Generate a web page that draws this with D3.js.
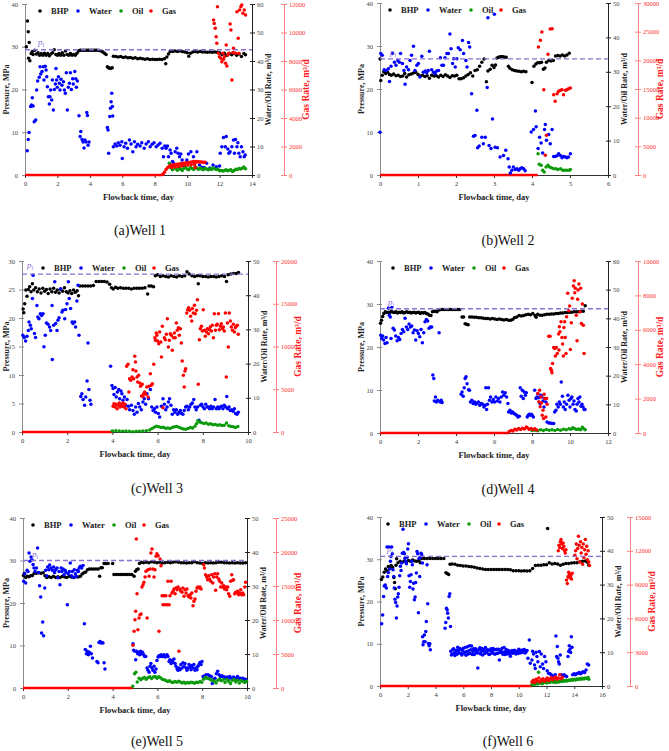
<!DOCTYPE html>
<html>
<head>
<meta charset="utf-8">
<script src="https://cdn.jsdelivr.net/npm/d3@7"></script>
<style>
  body { margin: 0; background: #fff; }
  svg text { font-family: "Liberation Serif", "Times New Roman", serif; }
</style>
</head>
<body>
<svg id="fig" width="669" height="751"></svg>
<script>
// ---- per-well settings ----
const letters = ['a', 'b', 'c', 'd', 'e', 'f'];
const wellNames = ['Well 1', 'Well 2', 'Well 3', 'Well 4', 'Well 5', 'Well 6'];
const timeMax = [14, 6, 10, 12, 10, 16];
const timeStep = [2, 1, 2, 2, 2, 2];
const pressMax = [40, 40, 30, 40, 40, 40];
const pressStep = [10, 10, 5, 10, 10, 10];
const rateMax = [60, 50, 50, 60, 50, 50];
const gasMax = [12000, 30000, 20000, 10000, 25000, 15000];
const gasStep = [2000, 5000, 5000, 2000, 5000, 3000];
const piValue = [29.3, 27, 27.7, 28.9, 30, 30.7];
const gasZeroUntil = [8.5, 4.15, 4.0, 6.8, 4.9, 10.95];

// ---- Well 1 ----
const bhp1 = [[0.08,30],[0.15,36],[0.2,33.5],[0.22,27.3],[0.26,31],[0.3,26.7],[0.38,28.4],[0.45,28.9],[0.5,28.2],[0.6,29.2],[0.7,28.3],[0.8,28.6],[0.9,28],[1,28.4],[1.1,28],[1.2,28.5],[1.3,28],[1.4,28.4],[1.5,27.9],[1.6,28.3],[1.7,28.6],[1.8,29.3],[1.9,28.2],[2,28],[2.1,28.4],[2.2,28],[2.3,28.6],[2.4,28],[2.5,29],[2.6,28.2],[2.7,28],[2.8,28.4],[2.9,28],[3,28.2],[3.1,28],[3.2,28.5],[3.3,29],[3.4,29.2],[3.5,29.2],[3.6,29.2],[3.7,29.2],[3.8,29.2],[3.9,29.2],[4,29.2],[4.1,29.2],[4.2,29.2],[4.3,29.2],[4.4,29.2],[4.5,29.2],[4.6,29.1],[4.7,29],[4.8,28.8],[4.9,28.5],[5,28.2],[5.08,25.3],[5.15,25.1],[5.22,25],[5.3,25],[5.38,25.1],[5.45,27.8],[5.6,27.7],[5.75,27.6],[5.9,27.7],[6.05,27.5],[6.2,27.6],[6.35,27.4],[6.5,27.5],[6.65,27.3],[6.8,27.4],[6.95,27.2],[7.1,27.3],[7.25,27.2],[7.4,27.1],[7.55,27.2],[7.7,27],[7.85,27.1],[8,27],[8.15,27],[8.3,27.1],[8.45,27],[8.6,27.2],[8.68,26],[8.75,27.6],[8.85,28.3],[8.95,28.9],[9.1,28.9],[9.25,29],[9.4,28.9],[9.55,29],[9.7,28.9],[9.85,28.8],[10,28.6],[10.1,27.8],[10.2,28.5],[10.35,28.8],[10.5,28.9],[10.65,28.8],[10.8,28.9],[10.95,28.8],[11.1,28.8],[11.25,28.7],[11.4,28.8],[11.55,28.7],[11.7,28.8],[11.85,28.7],[12,28.6],[12.15,28.2],[12.3,28.5],[12.45,28],[12.6,28.4],[12.75,28.1],[12.9,28.5],[13.05,28],[13.2,28.3],[13.35,27.7],[13.5,28.4],[13.6,28.1]];
const water1 = [[0.14,8.5],[0.2,12.5],[0.25,14.9],[0.35,24],[0.4,24.6],[0.45,27.1],[0.5,24.2],[0.57,18.7],[0.66,19.3],[0.72,29.8],[0.78,33],[0.88,34.3],[0.93,38],[0.97,35.4],[1.05,36.3],[1.13,38],[1.17,33.3],[1.25,38.2],[1.3,36.8],[1.34,34.5],[1.38,31],[1.44,27.5],[1.5,24.9],[1.54,27.5],[1.58,29.8],[1.65,26.3],[1.69,33.3],[1.75,22.8],[1.81,30],[1.87,31.9],[1.91,37.4],[1.95,33.3],[1.99,30.8],[2.06,34.5],[2.12,32.2],[2.16,29.8],[2.22,33.6],[2.28,31.5],[2.37,32.7],[2.43,29.8],[2.49,28.7],[2.55,35.9],[2.61,22.8],[2.67,30.8],[2.74,32.2],[2.8,35.9],[2.86,30],[2.94,33.8],[2.98,31.9],[3.07,36.3],[3.13,33.8],[3.17,30.8],[3.23,33],[3.33,20.8],[3.4,13.5],[3.44,15.3],[3.52,12.5],[3.58,11.6],[3.64,9.5],[3.7,12.3],[3.77,11.6],[3.81,21.9],[3.85,20.9],[3.89,10.4],[3.95,11.6],[5.08,16.7],[5.12,15.8],[5.16,7.6],[5.23,20.5],[5.27,23.4],[5.31,25.7],[5.35,28.7],[5.39,24],[5.41,20.7],[5.45,9.9],[5.56,10.9],[5.66,10.2],[5.76,11.3],[5.86,10.4],[5.97,11.7],[6,5.8],[6.11,9.9],[6.21,11.1],[6.32,9.4],[6.44,12.3],[6.54,10.9],[6.65,8.2],[6.75,11.7],[6.85,9.9],[6.95,10.8],[7.1,10.2],[7.2,11.3],[7.35,9.4],[7.47,10.9],[7.61,11.7],[7.72,9.9],[7.84,10.8],[7.96,11.3],[8.09,9.9],[8.21,10.5],[8.33,11.1],[8.46,9.4],[8.54,6.4],[8.62,10.2],[8.7,9.4],[8.79,10.2],[8.85,6.4],[8.95,8.8],[9.01,7.6],[9.1,4.7],[9.16,4.1],[9.26,8.2],[9.36,9.4],[9.44,7.6],[9.53,6.4],[9.61,7.4],[9.69,5.3],[9.77,3.9],[9.85,3],[9.98,5.3],[10.08,7.4],[10.23,8.2],[10.39,6.4],[10.5,2.8],[10.6,8.2],[10.76,3.5],[10.9,2.7],[11.05,2.6],[11.2,4.1],[11.4,2.5],[11.6,3.5],[11.8,2.9],[12,3.2],[12.04,7.6],[12.14,9.9],[12.24,13.2],[12.35,9.9],[12.41,13.5],[12.51,9.1],[12.57,7.6],[12.65,8.2],[12.76,9.9],[12.86,12.3],[12.92,7.6],[12.98,12.5],[13.07,9.9],[13.13,11.3],[13.19,7.6],[13.27,6.4],[13.35,9.9],[13.44,8.2],[13.52,6.4],[13.58,7]];
const oil1 = [[8.9,4.1],[9,2.5],[9.1,1.8],[9.2,2.9],[9.3,2.2],[9.4,1.7],[9.5,2.6],[9.6,2],[9.7,1.6],[9.8,2.4],[9.9,2.8],[10,2.1],[10.1,1.8],[10.2,2.6],[10.3,2.3],[10.4,1.9],[10.5,2.8],[10.6,2.4],[10.7,2],[10.8,2.5],[10.9,2.1],[11,1.8],[11.1,2.4],[11.2,2.1],[11.3,1.8],[11.4,2.2],[11.5,1.9],[11.6,2.5],[11.7,2.2],[11.8,1.9],[11.9,2],[12,1.5],[12.1,1.6],[12.2,1.4],[12.3,1.6],[12.4,1.8],[12.5,1.5],[12.6,1.7],[12.7,1.8],[12.8,1.2],[12.9,1.6],[13,2],[13.1,1.9],[13.2,2.3],[13.3,2.1],[13.4,2.4],[13.5,2.8],[13.6,2.2]];
const gas1 = [[8.5,50],[8.6,200],[8.7,380],[8.8,520],[8.9,620],[9,680],[9.05,520],[9.1,700],[9.2,720],[9.25,560],[9.3,740],[9.4,760],[9.45,600],[9.5,770],[9.6,790],[9.65,640],[9.7,800],[9.8,820],[9.85,680],[9.9,840],[10,860],[10.05,700],[10.1,880],[10.2,900],[10.25,720],[10.3,920],[10.4,940],[10.45,760],[10.5,520],[10.55,940],[10.6,920],[10.7,930],[10.8,920],[10.9,910],[11,900],[11.1,890],[11.63,10880],[11.67,10640],[11.73,10290],[11.79,9710],[11.83,9240],[11.87,11810],[11.93,8540],[11.99,8300],[12.08,8190],[12.14,7950],[12.2,8540],[12.24,8120],[12.3,8300],[12.37,7840],[12.41,9120],[12.45,7650],[12.51,8420],[12.57,8540],[12.65,10600],[12.7,10180],[12.76,6670],[12.82,8590],[12.86,8890],[12.98,8540],[13.07,11460],[13.15,9590],[13.19,8540],[13.23,11580],[13.31,11810],[13.37,11930],[13.44,11350],[13.52,11580],[13.6,11230]];

// ---- Well 2 ----
const bhp2 = [[0,27],[0.02,22],[0.06,23.2],[0.1,24],[0.15,23.6],[0.2,23.9],[0.25,23.4],[0.3,23.2],[0.36,23.5],[0.42,23.1],[0.48,23.2],[0.54,22.9],[0.6,23],[0.65,23.6],[0.7,22.8],[0.76,23.3],[0.82,23.5],[0.88,23.7],[0.94,23.9],[1,23.4],[1.06,23],[1.12,23.2],[1.18,22.9],[1.24,23.1],[1.3,22.5],[1.36,23.2],[1.42,23],[1.48,23.1],[1.54,22.8],[1.6,23.2],[1.66,22.9],[1.72,23.3],[1.78,23],[1.84,22.7],[1.9,23.1],[1.96,23],[2.02,23.2],[2.08,22.4],[2.14,22.4],[2.2,22.6],[2.26,23],[2.32,23.4],[2.38,23.8],[2.44,23],[2.5,24.3],[2.56,24.5],[2.62,25.3],[2.68,26.2],[2.74,27],[2.8,21.7],[2.84,24.2],[2.9,24.6],[2.95,25.5],[3,25],[3.04,25.6],[3.08,27.2],[3.12,27.4],[3.16,27.5],[3.2,27.5],[3.24,27.5],[3.28,27.4],[3.32,27.4],[3.38,25.3],[3.42,24.8],[3.48,24.5],[3.54,24.3],[3.6,24.2],[3.66,24.1],[3.72,24],[3.78,24.1],[3.84,24],[4,21.5],[4.05,25.3],[4.1,25.8],[4.15,26.1],[4.2,26.1],[4.25,26.2],[4.3,24.6],[4.34,24.9],[4.38,26.2],[4.44,26.6],[4.5,26.5],[4.56,26.6],[4.62,27.7],[4.68,27.8],[4.74,27.7],[4.8,27.9],[4.86,27.7],[4.92,27.9],[4.98,28.3]];
const water2 = [[0,12.4],[0.02,35.3],[0.06,34.8],[0.11,30.6],[0.16,30.4],[0.22,30.9],[0.25,27.2],[0.29,31.6],[0.33,35.3],[0.38,32.8],[0.42,31.9],[0.47,33.3],[0.51,32.8],[0.54,35.3],[0.59,32.4],[0.63,30.4],[0.66,26.4],[0.7,31.4],[0.75,30.6],[0.79,33.3],[0.83,34.8],[0.88,37.4],[0.92,30.4],[0.97,31.9],[1.01,32.4],[1.05,28.5],[1.1,34.5],[1.14,29.9],[1.19,30.2],[1.23,29.7],[1.27,30.4],[1.3,36],[1.36,30.6],[1.41,29.9],[1.45,29.5],[1.49,30.2],[1.54,30.4],[1.59,34.1],[1.63,31.9],[1.67,31.9],[1.71,34.1],[1.76,35.3],[1.8,35.3],[1.84,41],[1.87,36.7],[1.91,32.4],[1.94,33.8],[1.98,31.4],[2.02,33.8],[2.06,37],[2.11,36.4],[2.17,39.1],[2.2,35.3],[2.26,33.3],[2.29,31.4],[2.33,38.5],[2.36,37.2],[2.41,23.6],[2.46,11.3],[2.5,11.5],[2.55,18.8],[2.57,7.9],[2.61,8.4],[2.68,11],[2.72,9.1],[2.77,11],[2.82,25.4],[2.84,45.7],[2.87,8.6],[2.92,7.7],[2.96,16.3],[3.01,46.7],[3.03,8.1],[3.09,7.9],[3.16,5.2],[3.25,5.7],[3.31,7.2],[3.37,4.7],[3.4,2.3],[3.43,0.6],[3.47,1.4],[3.51,2.3],[3.56,1.6],[3.6,1.8],[3.65,1.4],[3.69,1.8],[3.73,2.1],[3.78,1.8],[3.82,1.2],[3.98,12.5],[4.04,13.2],[4.09,18.6],[4.11,14],[4.16,7.7],[4.2,11],[4.24,9.3],[4.28,6.4],[4.33,13.2],[4.35,14.7],[4.38,10.1],[4.44,11.8],[4.48,9.1],[4.53,13.2],[4.57,5.4],[4.61,5.4],[4.66,5.6],[4.7,6.2],[4.75,5.7],[4.79,5],[4.83,5.4],[4.88,5.2],[4.92,5],[4.96,5.2],[5.01,6.2]];
const oil2 = [[4.16,6.2],[4.19,3.1],[4.24,2.8],[4.28,1.4],[4.32,0.9],[4.37,2.3],[4.42,2.8],[4.46,2.3],[4.51,2.1],[4.57,1.8],[4.63,1.8],[4.68,1.6],[4.75,1.8],[4.81,1.4],[4.86,1.4],[4.92,1.4],[4.98,1.4],[5.01,1.6]];
const gas2 = [[4.17,22330],[4.22,23490],[4.26,24940],[4.31,14880],[4.35,3430],[4.38,6920],[4.42,21050],[4.48,25470],[4.53,25520],[4.57,14010],[4.61,12850],[4.66,14190],[4.7,14590],[4.75,14770],[4.79,14880],[4.83,14010],[4.88,14770],[4.92,14880],[4.96,15060],[5.01,15170]];

// ---- Well 3 ----
const bhp3 = [[0.05,21.6],[0.08,20.9],[0.12,22.5],[0.17,24.9],[0.22,23.8],[0.28,25],[0.34,25.5],[0.4,24.6],[0.46,26],[0.52,24.9],[0.6,25.3],[0.68,24.6],[0.76,25.1],[0.84,24.4],[0.92,25.2],[1,24.7],[1.08,25],[1.16,24.3],[1.24,25.1],[1.32,24.6],[1.4,25.2],[1.48,24.5],[1.56,24.9],[1.64,24.4],[1.72,25],[1.8,24.7],[1.88,25.3],[1.96,24.6],[2.04,24.4],[2.12,24.8],[2.2,24.3],[2.28,24.9],[2.36,24.5],[2.44,24.8],[2.5,23.9],[2.56,25.6],[2.68,25.6],[2.8,25.6],[2.92,25.6],[3.04,25.6],[3.16,25.7],[3.28,26.4],[3.4,26.4],[3.52,26.4],[3.64,26.4],[3.76,26.3],[3.88,25.9],[3.96,25.3],[4.04,25.1],[4.14,25.4],[4.24,25.2],[4.36,25.3],[4.48,25.2],[4.6,25.2],[4.72,25.2],[4.84,25.1],[4.96,25.2],[5.08,25.2],[5.2,25.2],[5.32,25.2],[5.44,25.3],[5.56,24.2],[5.62,25.6],[5.72,25.6],[5.82,25.5],[5.9,27.4],[6,27.6],[6.12,27.3],[6.24,27.4],[6.36,27.3],[6.48,27.2],[6.6,27.4],[6.72,27.3],[6.84,27.2],[6.96,27.4],[7.08,27.3],[7.2,27.4],[7.3,28.1],[7.4,27.7],[7.52,27.4],[7.64,27.3],[7.76,27.4],[7.8,26],[7.88,27.4],[8,27.3],[8.12,27.3],[8.24,27.2],[8.36,27.3],[8.48,27.3],[8.6,27.2],[8.72,27.3],[8.84,27.4],[8.96,27.3],[9.05,26.4],[9.12,27.6],[9.24,27.7],[9.36,27.8],[9.48,27.8],[9.58,28]];
const water3 = [[0.04,28.3],[0.1,27.6],[0.16,26.6],[0.22,28],[0.28,29.7],[0.31,32.2],[0.37,31.2],[0.41,30.2],[0.46,39],[0.49,45.8],[0.55,28.8],[0.6,27.6],[0.66,37],[0.7,33.6],[0.75,33.1],[0.81,34.6],[0.87,34.1],[0.93,34.6],[0.97,24.9],[1.03,28.3],[1.08,31.9],[1.15,31.5],[1.22,30.7],[1.27,29.7],[1.33,37],[1.34,21.2],[1.4,31.2],[1.45,43.9],[1.49,31.7],[1.55,29.7],[1.59,32.7],[1.64,33.4],[1.71,41.9],[1.77,35.1],[1.81,35.6],[1.89,33.1],[1.93,35.8],[1.99,37.5],[2.05,43.9],[2.09,39],[2.15,36.1],[2.22,32.2],[2.26,31.7],[2.33,32.2],[2.37,30.7],[2.43,38.3],[2.48,42.9],[2.52,28.3],[2.6,10.4],[2.65,11.2],[2.7,9.5],[2.77,7.8],[2.82,10.2],[2.88,14.9],[2.92,26],[2.96,12.4],[3.01,9.3],[3.05,8.1],[3.92,19.2],[3.98,13.6],[4.03,12.7],[4.07,11],[4.12,13],[4.17,10.2],[4.22,11.7],[4.28,12.4],[4.32,9.7],[4.38,12],[4.42,11.2],[4.47,9.3],[4.53,10.2],[4.59,7.8],[4.65,9.5],[4.71,7.5],[4.76,6.5],[4.84,7.8],[4.91,6.3],[4.97,5.2],[5.03,7.3],[5.09,5.8],[5.15,8.3],[5.21,7.3],[5.28,6.5],[5.35,8.8],[5.41,9.7],[5.47,8.1],[5.53,11.2],[5.6,9.7],[5.68,12.4],[5.74,7.3],[5.8,6.3],[5.86,6.8],[5.91,5.8],[5.97,7.3],[6.03,5.4],[6.09,4.4],[6.17,7.5],[6.24,9.7],[6.3,8.1],[6.36,6.5],[6.42,7.3],[6.48,8.8],[6.53,9.7],[6.59,7.8],[6.65,5.2],[6.71,6.5],[6.77,5.8],[6.83,6.5],[6.89,5.2],[6.95,5.8],[7.01,6.3],[7.06,5.4],[7.12,5.2],[7.18,6.3],[7.24,7.3],[7.3,7.5],[7.36,6.5],[7.42,7.3],[7.48,8.1],[7.54,8.5],[7.6,9.5],[7.65,7.3],[7.71,6.5],[7.77,7.3],[7.83,3.4],[7.89,7.8],[7.95,8.1],[8.01,7.3],[8.07,6.8],[8.13,8.1],[8.19,7.3],[8.24,7.3],[8.3,6.8],[8.36,7.5],[8.42,6.8],[8.48,7.3],[8.54,9.5],[8.6,6.8],[8.66,7.3],[8.72,6.8],[8.78,7.3],[8.83,7.5],[8.89,6.8],[8.95,7.8],[9.01,7.3],[9.06,10.4],[9.1,6.8],[9.16,7.3],[9.22,6.3],[9.28,6.5],[9.34,6.1],[9.4,6.8],[9.45,5.4],[9.51,5.2],[9.57,5.8]];
const oil3 = [[4,0.3],[4.15,0.4],[4.3,0.3],[4.45,0.2],[4.6,0.3],[4.75,0.2],[4.9,0.1],[5.05,0.2],[5.2,0.2],[5.35,0.3],[5.5,0.4],[5.65,0.6],[5.75,1],[5.85,1.4],[5.95,1.7],[6.05,1.5],[6.15,1.3],[6.25,1.4],[6.35,1.1],[6.45,1.2],[6.55,1],[6.65,1.3],[6.75,1.5],[6.85,1.6],[6.95,1.4],[7.05,1.1],[7.15,0.9],[7.25,0.8],[7.35,1],[7.45,1.3],[7.55,1.2],[7.65,1.7],[7.72,2.4],[7.78,3.3],[7.85,2.9],[7.95,2.7],[8.05,2.5],[8.15,2.6],[8.25,2.3],[8.35,2.4],[8.45,2.1],[8.55,2.2],[8.65,2],[8.75,2.1],[8.85,1.9],[8.95,2],[9.05,2.6],[9.15,1.8],[9.25,1.6],[9.35,1.5],[9.45,1.3],[9.55,1.6]];
const gas3 = [[4.03,3000],[4.07,3310],[4.12,2920],[4.16,3240],[4.21,2730],[4.25,3120],[4.3,3390],[4.34,2920],[4.38,3240],[4.43,3000],[4.47,3390],[4.51,2920],[4.56,3240],[4.6,2730],[4.63,7680],[4.69,7910],[4.73,4680],[4.76,6240],[4.81,6040],[4.87,6430],[4.91,7290],[4.94,6240],[4.99,8850],[5.02,8190],[5.04,7140],[5.09,6430],[5.12,5850],[5.16,6630],[5.21,5730],[5.25,5340],[5.29,4210],[5.32,5580],[5.35,4170],[5.38,4480],[5.43,4680],[5.47,4410],[5.52,5260],[5.58,4090],[5.62,5340],[5.68,6820],[5.72,5460],[5.77,5650],[5.83,7910],[5.88,11030],[5.91,10720],[5.94,11580],[5.97,11310],[6,10640],[6.05,10330],[6.09,11700],[6.14,10530],[6.17,8770],[6.21,12360],[6.24,2850],[6.3,11030],[6.34,10800],[6.39,11420],[6.43,13260],[6.48,9940],[6.52,10720],[6.56,11500],[6.61,11310],[6.65,9550],[6.7,11030],[6.74,11580],[6.78,11030],[6.83,12750],[6.87,11890],[6.92,12200],[6.96,11310],[7.01,12090],[7.05,10410],[7.09,8300],[7.14,6630],[7.18,5260],[7.21,7140],[7.24,7410],[7.29,13920],[7.33,14310],[7.37,14540],[7.42,14230],[7.46,13530],[7.51,12980],[7.54,14430],[7.58,13920],[7.63,14820],[7.67,13840],[7.72,14230],[7.76,15480],[7.8,5580],[7.85,10800],[7.89,12090],[7.94,12360],[7.98,11810],[8.02,14310],[8.07,11890],[8.11,11190],[8.16,11700],[8.2,12090],[8.25,11500],[8.29,11970],[8.33,12280],[8.38,11810],[8.42,12480],[8.47,11030],[8.51,13840],[8.56,11890],[8.6,12480],[8.64,12590],[8.69,13840],[8.73,11970],[8.78,12360],[8.82,12670],[8.87,12090],[8.91,12280],[8.95,11810],[9,13920],[9.04,6430],[9.09,12750],[9.13,9940],[9.17,13920],[9.22,12980],[9.26,12280],[9.31,11890],[9.35,12590],[9.4,11700],[9.44,12200],[9.48,12360],[9.53,12480],[9.57,11420]];

// ---- Well 4 ----
const bhp4 = [[0.03,25.5],[0.08,26.2],[0.14,27.1],[0.2,27.8],[0.28,28.2],[0.36,28],[0.44,28.1],[0.52,28],[0.6,28.3],[0.68,28.1],[0.76,28],[0.84,28.2],[0.92,27.9],[1,28.1],[1.08,28],[1.16,28.2],[1.24,27.9],[1.32,28],[1.4,28.2],[1.48,28],[1.56,28.1],[1.64,27.9],[1.72,28],[1.8,28.1],[1.88,27.9],[1.96,28],[2.04,28.1],[2.12,27.8],[2.2,28],[2.28,27.9],[2.36,28],[2.44,27.8],[2.52,27.7],[2.6,27.4],[2.68,27.3],[2.76,28.2],[2.84,28.3],[2.92,28.3],[3,28.2],[3.1,28.6],[3.2,28.7],[3.3,28.7],[3.4,28.7],[3.5,28.7],[3.6,28.7],[3.7,28.7],[3.8,28.7],[3.9,28.7],[4,28.7],[4.1,28.7],[4.2,28.7],[4.32,27],[4.4,27],[4.48,25.4],[4.56,25.3],[4.64,25.2],[4.72,27],[4.84,27],[4.96,26.9],[5.08,26.9],[5.2,26.8],[5.32,26.8],[5.44,26.7],[5.56,26.6],[5.68,26.6],[5.8,26.5],[5.92,26.6],[6.04,26.5],[6.16,26.4],[6.28,26.5],[6.4,26.4],[6.52,26.3],[6.64,26.4],[6.76,26.2],[6.88,26.2],[6.98,26.4],[7.08,26.8],[7.2,27],[7.32,27.3],[7.44,27.2],[7.56,27.3],[7.68,27.5],[7.8,27.6],[7.92,27.5],[8.04,27.8],[8.16,27.3],[8.22,26.9],[8.3,27.6],[8.42,27.4],[8.54,27.4],[8.66,27.5],[8.78,27.6],[8.9,27.6],[9.02,27.7],[9.14,27.7],[9.26,27.8],[9.38,27.8],[9.5,27.9],[9.62,27.9],[9.74,28],[9.86,28],[9.98,28.1],[10.1,28.1],[10.22,28.2],[10.34,28.2],[10.46,28.2],[10.58,28.3],[10.7,28.3],[10.8,29.6]];
const water4 = [[0.04,34.1],[0.09,33],[0.14,33.8],[0.19,32.4],[0.26,31.2],[0.32,33.3],[0.37,31.5],[0.44,43.5],[0.49,41.1],[0.54,40.5],[0.58,33],[0.62,43.8],[0.69,36.5],[0.76,35.9],[0.83,33.8],[0.9,32.2],[0.97,33.3],[1.04,32.6],[1.11,34.7],[1.18,36.1],[1.25,35.3],[1.32,40],[1.39,37],[1.46,36.1],[1.53,38],[1.6,37],[1.67,37.3],[1.74,35],[1.81,35.9],[1.88,32.4],[1.95,35.7],[2.02,34.7],[2.09,33.6],[2.16,36.1],[2.23,31.5],[2.3,35],[2.37,38.8],[2.44,39.6],[2.51,39.1],[2.58,36.5],[2.65,37],[2.72,37],[2.78,20.2],[2.83,19],[2.86,11.2],[2.92,12.6],[2.97,10.8],[3.04,11.4],[3.11,35],[3.16,10.8],[3.22,11.4],[3.27,10.6],[4.27,13.5],[4.32,14.3],[4.38,12.8],[4.43,15.8],[4.48,19],[4.53,19.6],[4.58,17.2],[4.66,15.1],[4.71,14.9],[4.76,10.8],[4.83,11.4],[4.9,10.3],[4.97,10.8],[5.04,10],[5.11,10.5],[5.18,10.8],[5.25,9.7],[5.33,10.3],[5.4,10],[5.47,9.1],[5.54,9.7],[5.57,15.8],[5.61,8.2],[5.66,10],[5.71,15.8],[5.76,11.4],[5.82,12.6],[5.89,10.8],[5.96,11.7],[6.03,10.8],[6.1,12.6],[6.17,11.2],[6.24,12],[6.31,10.8],[6.38,12.6],[6.45,14.3],[6.52,13.2],[6.59,14],[6.66,12.6],[6.73,10.3],[6.77,7.3],[6.84,7.9],[6.91,7],[6.98,7.3],[7.05,6.8],[7.12,6.5],[7.19,6.2],[7.26,5.6],[7.33,5.8],[7.38,15.8],[7.43,12.8],[7.49,14.9],[7.54,12],[7.59,14.3],[7.65,13.2],[7.7,14],[7.75,5.6],[7.8,6.2],[7.86,6.5],[7.91,6.2],[7.96,6.5],[8.01,6.2],[8.07,5.6],[8.14,14.9],[8.21,12],[8.26,12.6],[8.31,13.7],[8.36,12.3],[8.42,10.3],[8.47,13.2],[8.52,12.6],[8.58,11.2],[8.63,9.1],[8.68,12],[8.73,10.8],[8.79,3.8],[8.88,3.5],[8.96,3.5],[9.05,3.3],[9.14,3.3],[9.19,7.3],[9.26,7.9],[9.31,10],[9.38,9.1],[9.44,10.8],[9.49,10],[9.54,17.8],[9.6,12.8],[9.65,9.1],[9.7,10.8],[9.75,8.2],[9.82,10],[9.89,13.2],[9.95,11.4],[10,9.1],[10.05,12],[10.1,12.6],[10.16,10],[10.21,11.2],[10.26,8.2],[10.33,7.7],[10.37,10],[10.42,12],[10.47,10.8],[10.52,12.6],[10.58,9.3],[10.63,10],[10.69,9.1],[10.74,8.2],[10.79,8.2]];
const oil4 = [[8,0.9],[8.15,1],[8.3,0.8],[8.45,1.1],[8.6,0.9],[8.75,1.2],[8.9,1],[9.05,1.1],[9.2,0.9],[9.35,1.2],[9.5,1],[9.65,1.3],[9.8,1.1],[9.95,1.5],[10.05,1.3],[10.15,1.8],[10.25,1.5],[10.35,1.2],[10.45,1.4],[10.55,1.1],[10.65,2],[10.72,1.5],[10.8,1.1]];
const gas4 = [[6.8,80],[6.9,150],[7,120],[7.1,220],[7.2,180],[7.3,260],[7.4,200],[7.5,280],[7.6,230],[7.7,350],[7.75,300],[7.85,220],[7.95,260],[8.05,200],[8.15,240],[8.25,180],[8.31,2290],[8.36,1810],[8.4,2490],[8.43,1520],[8.47,2100],[8.5,1750],[8.54,1030],[8.58,1320],[8.61,840],[8.64,2250],[8.68,2000],[8.73,930],[8.77,2000],[8.8,1670],[8.88,5630],[8.95,5630],[8.98,3750],[9.02,3650],[9.05,3500],[9.08,4040],[9.14,4970],[9.19,4910],[9.23,4470],[9.28,4970],[9.33,4620],[9.4,5750],[9.42,4820],[9.44,6180],[9.47,5880],[9.53,6470],[9.58,5550],[9.61,5170],[9.65,4470],[9.68,6140],[9.72,6470],[9.75,5550],[9.79,4620],[9.82,6760],[9.88,8120],[9.93,7110],[9.98,7380],[10.02,4850],[10.07,6410],[10.12,7830],[10.18,8540],[10.22,8850],[10.25,8160],[10.28,8410],[10.33,6850],[10.37,5360],[10.4,7770],[10.42,8310],[10.47,8660],[10.53,7050],[10.56,8410],[10.6,6370],[10.65,7500],[10.7,6270],[10.74,4620]];

// ---- Well 5 ----
const bhp5 = [[0.02,26.5],[0.06,27],[0.12,26],[0.18,26.3],[0.26,26.2],[0.34,26.4],[0.42,26.5],[0.5,27],[0.6,27],[0.7,27.1],[0.8,27],[0.9,27.1],[0.98,26.4],[1.06,26],[1.16,26.2],[1.26,26],[1.36,26.3],[1.46,26],[1.56,26.2],[1.66,26],[1.76,26.3],[1.86,26.1],[1.96,26],[2.06,26.3],[2.16,26.1],[2.26,26],[2.36,26.2],[2.46,26.1],[2.56,26.3],[2.64,26.8],[2.72,27.1],[2.8,27.3],[2.88,27.8],[2.96,28],[3.06,28],[3.16,28],[3.26,28],[3.36,28],[3.42,26.3],[3.48,28.3],[3.54,28.3],[3.62,29.3],[3.7,29.3],[3.8,29.3],[4,29.3],[4.06,26.7],[4.16,26.7],[4.26,26.7],[4.36,26.7],[4.46,26.7],[4.56,26.7],[4.66,26.7],[4.76,26.7],[4.86,26.7],[4.96,26.3],[5.02,27.5],[5.08,27.9],[5.14,28],[5.2,29.3],[5.28,29.6],[5.38,29.5],[5.5,29.6],[5.62,29.5],[5.74,29.7],[5.86,29.6],[5.98,29.5],[6.1,29.6],[6.22,29.4],[6.34,29.5],[6.46,29.6],[6.58,29.5],[6.7,29.6],[6.82,29.7],[6.94,29.6],[7.06,29.5],[7.18,29.5],[7.3,29.4],[7.42,29.5],[7.54,29.5],[7.66,29.7],[7.78,29.5],[7.9,29.4],[8.02,29.3],[8.14,29.5],[8.26,29.4],[8.38,29.5],[8.5,29.4],[8.62,29.5],[8.74,29.6],[8.86,29.6],[8.98,29.5],[9.1,29.5],[9.22,29.4],[9.34,29.5],[9.46,29.4],[9.58,29.5],[9.7,29.4],[9.82,29.4],[9.94,29.5]];
const water5 = [[0.03,31.4],[0.07,33.6],[0.12,30.9],[0.18,34.6],[0.22,34.3],[0.27,39.7],[0.31,37.3],[0.36,38.5],[0.4,37.7],[0.45,36.3],[0.49,35.3],[0.54,34.3],[0.6,35.3],[0.65,41.2],[0.7,34],[0.74,30.1],[0.79,26.8],[0.83,16.2],[0.88,19.4],[0.92,15.4],[0.97,29.4],[1.01,34.6],[1.06,33],[1.1,35.6],[1.15,34.8],[1.19,36.2],[1.25,35.3],[1.31,34.6],[1.37,35.6],[1.41,34],[1.46,34.8],[1.52,35.3],[1.56,32.4],[1.61,34.3],[1.65,30.4],[1.7,35.3],[1.74,34.3],[1.79,35],[1.83,33.3],[1.88,34.6],[1.92,34],[1.98,24.5],[2.02,33.6],[2.07,34.3],[2.11,36.8],[2.16,33],[2.2,34.3],[2.25,32.6],[2.29,34.8],[2.34,33.6],[2.38,32.8],[2.43,34.6],[2.47,34.3],[2.51,35.3],[2.56,35.8],[2.62,35.3],[2.68,36],[2.74,18.9],[2.78,11.3],[2.83,10.1],[2.87,10.8],[2.92,9.8],[2.96,10.5],[3.01,12.3],[3.05,10.1],[3.1,8.8],[3.3,7.8],[3.35,7.4],[3.39,13.4],[3.44,13.7],[3.48,13.2],[3.53,13.4],[3.57,13.2],[3.62,7.4],[3.66,5.6],[4.91,13],[4.94,11.1],[4.99,10.8],[5.03,8.3],[5.07,10.8],[5.12,10.1],[5.16,10.5],[5.21,9.8],[5.25,10.8],[5.3,10.1],[5.34,10.5],[5.39,9.8],[5.43,9.3],[5.48,9.3],[5.54,5.9],[5.58,5.2],[5.63,4.6],[5.67,6.4],[5.71,7.2],[5.76,5.9],[5.8,5.2],[5.85,6.4],[5.89,4.6],[5.94,5.6],[5.98,8.1],[6.03,9.1],[6.07,9.5],[6.12,9.3],[6.16,9.8],[6.21,9.3],[6.25,9.5],[6.29,9.8],[6.34,9.1],[6.38,9.3],[6.43,9.8],[6.47,9.3],[6.52,7.8],[6.56,8.3],[6.61,7.2],[6.65,8.1],[6.7,7.5],[6.74,8.5],[6.79,7.2],[6.83,6.4],[6.88,5.6],[6.92,5.2],[6.96,5.9],[7.01,5.4],[7.05,6.9],[7.1,5.9],[7.14,7.4],[7.19,6.4],[7.23,7.2],[7.28,5.9],[7.32,5.2],[7.37,5.9],[7.41,6.9],[7.46,6.2],[7.5,5.4],[7.54,6.6],[7.59,5.9],[7.63,6.9],[7.68,5.2],[7.72,5.9],[7.77,5.4],[7.81,6.4],[7.86,6.9],[7.9,7.5],[7.95,6.9],[7.99,7.8],[8.04,3.4],[8.11,3.6],[8.18,3.9],[8.26,3.9],[8.33,3.6],[8.41,3.4],[8.45,1.3],[8.51,2.5],[8.57,2.9],[8.63,4.2],[8.69,4.9],[8.75,3.9],[8.81,3.2],[8.87,3.6],[8.93,3.4],[8.99,3.2],[9.05,2.9],[9.11,3.2],[9.17,2.9],[9.23,3.4],[9.29,2.9],[9.35,2.9],[9.4,3.2],[9.46,2.6],[9.52,2.9],[9.58,3.4],[9.64,2.6],[9.7,2.9],[9.76,2.6],[9.82,2.9],[9.88,2.5],[9.94,2.6]];
const oil5 = [[4.9,0.5],[4.98,4.2],[5.04,4.6],[5.1,1.8],[5.18,2.9],[5.26,2.4],[5.34,2.9],[5.42,3.1],[5.5,2.6],[5.58,3],[5.66,3.3],[5.74,2.8],[5.82,3.2],[5.9,3.4],[5.98,2.9],[6.06,3.3],[6.14,3],[6.22,2.6],[6.3,2.4],[6.38,2.2],[6.46,1.9],[6.54,2.1],[6.62,1.8],[6.7,1.6],[6.78,1.9],[6.86,1.7],[6.94,2],[7.02,1.8],[7.1,1.5],[7.18,1.7],[7.26,1.4],[7.34,1.6],[7.42,1.5],[7.5,1.7],[7.58,1.6],[7.66,1.4],[7.74,1.7],[7.82,1.6],[7.9,1.9],[7.98,1.7],[8.06,2.6],[8.14,3.1],[8.22,2.9],[8.3,2.7],[8.38,2.4],[8.46,2.2],[8.54,2],[8.62,1.5],[8.7,2.3],[8.78,2.6],[8.86,2.1],[8.94,2.4],[9.02,1.6],[9.1,2.5],[9.18,2],[9.26,1.3],[9.34,2.2],[9.42,2.5],[9.5,1.8],[9.58,2.3],[9.66,1.5],[9.74,2.2],[9.82,1.9],[9.9,1.6],[9.98,2]];
const gas5 = [[4.91,6280],[4.96,8330],[5,10050],[5.03,11280],[5.06,21910],[5.09,13870],[5.13,8580],[5.18,10290],[5.22,10780],[5.27,10880],[5.31,14850],[5.36,15200],[5.4,15540],[5.45,16320],[5.49,17160],[5.54,10290],[5.58,17400],[5.63,16420],[5.67,17500],[5.71,19850],[5.76,20440],[5.8,17500],[5.85,16320],[5.89,17400],[5.94,19360],[5.98,19760],[6.03,19460],[6.07,8330],[6.12,18970],[6.16,17990],[6.21,13580],[6.25,12260],[6.29,13580],[6.34,12260],[6.38,13580],[6.43,12260],[6.47,15690],[6.52,12260],[6.56,13580],[6.61,15690],[6.65,13970],[6.7,14220],[6.74,14560],[6.79,13870],[6.83,14710],[6.88,14460],[6.92,14850],[6.96,5390],[7.01,14560],[7.05,14220],[7.1,14070],[7.14,14710],[7.19,13480],[7.23,14460],[7.28,13970],[7.32,14560],[7.37,13580],[7.41,13380],[7.46,13730],[7.5,13240],[7.54,13970],[7.59,12110],[7.63,12750],[7.68,13090],[7.72,14220],[7.77,14710],[7.81,14850],[7.86,14710],[7.9,14850],[7.95,14560],[8.07,18140],[8.1,17650],[8.15,16670],[8.2,16320],[8.24,15930],[8.29,16520],[8.33,16030],[8.38,15690],[8.42,16670],[8.47,15440],[8.51,16320],[8.56,16810],[8.6,14360],[8.65,16320],[8.69,16810],[8.74,16030],[8.78,15690],[8.82,14850],[8.87,15440],[8.91,14850],[8.96,15050],[9,14560],[9.05,14850],[9.09,14460],[9.14,14850],[9.18,13870],[9.23,13480],[9.27,15690],[9.32,16670],[9.36,15830],[9.4,15930],[9.45,13870],[9.49,14070],[9.54,13970],[9.58,14220],[9.63,13730],[9.67,13970],[9.72,14460],[9.76,13730],[9.81,13970],[9.85,13730],[9.9,14850],[9.94,15540]];

// ---- Well 6 ----
const bhp6 = [[0.1,25.2],[0.2,25.8],[0.3,26.9],[0.4,27.7],[0.5,27.3],[0.6,28.3],[0.7,27.8],[0.8,28.5],[0.9,28.1],[1,25.7],[1.05,24.5],[1.1,23],[1.15,28.6],[1.2,30.1],[1.3,29.2],[1.45,29.5],[1.6,29.3],[1.75,29.6],[1.9,29.4],[2.05,29.7],[2.2,29.5],[2.35,29.8],[2.5,29.6],[2.65,29.5],[2.8,29.7],[2.9,29.2],[3,30.2],[3.2,30.2],[3.4,30.2],[3.6,30.2],[3.8,30.2],[4,30.2],[4.2,30.2],[4.4,30.2],[4.6,30.2],[4.75,26.8],[4.85,26.6],[4.95,26.4],[5.05,28.8],[5.2,28.9],[5.4,28.8],[5.6,28.6],[5.8,28.5],[6,28.4],[6.2,28.4],[6.4,28.3],[6.6,28.2],[6.8,28.1],[7,27.9],[7.2,27.8],[7.4,27.7],[7.6,27.6],[7.8,27.6],[8,27.6],[8.2,27.6],[8.4,27.6],[8.6,27.6],[8.8,27.6],[9,27.6],[9.2,27.6],[9.4,27.5],[9.6,27.3],[9.8,27.3],[10,27.3],[10.2,27.2],[10.4,27.3],[10.6,27.2],[10.8,27.3],[11,27.8],[11.2,28.5],[11.4,28.6],[11.6,28.6],[11.8,28.7],[12,28.7],[12.08,37.3],[12.2,29.2],[12.4,28.9],[12.6,29],[12.8,28.9],[13,28.6],[13.2,28.8],[13.4,29],[13.6,29],[13.8,29.1],[14,29.2],[14.2,29.2],[14.4,29.4],[14.6,29.5],[14.8,29.6],[14.95,29.3],[15.05,28.6]];
const water6 = [[0.12,18.4],[0.19,21],[0.26,26.5],[0.31,29.6],[0.38,29.9],[0.46,29],[0.51,41.1],[0.55,32.4],[0.6,33.6],[0.65,41.1],[0.7,34.6],[0.75,36.9],[0.79,38.3],[0.84,41.1],[0.89,39.1],[0.94,34.4],[0.99,32.4],[1.03,29],[1.08,25.7],[1.13,24.7],[1.18,20.1],[1.23,23.7],[1.28,26.3],[1.32,27.3],[1.37,29.2],[1.42,32.6],[1.47,35.4],[1.52,34.2],[1.56,36.4],[1.61,39.3],[1.66,46.4],[1.71,39.5],[1.76,39.1],[1.8,37.8],[1.85,36.9],[1.9,36.2],[1.95,38.1],[2,40.5],[2.05,42.1],[2.09,32.6],[2.14,29.2],[2.19,30.9],[2.24,32.9],[2.29,36.9],[2.33,35.9],[2.38,28.7],[2.43,30.4],[2.48,25.5],[2.53,26.3],[2.57,30.6],[2.62,33.4],[2.67,39.8],[2.72,39.1],[2.77,21.7],[2.82,37.8],[2.86,32.4],[2.91,38.1],[2.96,39.3],[3.01,38.8],[3.06,36.4],[3.07,14.6],[3.1,12.2],[3.15,13.1],[3.2,15.1],[3.25,13.1],[3.3,16.1],[3.34,19.1],[3.39,35.9],[3.44,24.3],[3.49,12.6],[3.54,11.9],[3.59,12.5],[3.63,10.7],[4.69,17.1],[4.74,18.8],[4.79,23],[4.84,22.5],[4.88,21.5],[4.93,20.1],[4.98,26.5],[5.03,27.3],[5.08,17.6],[5.1,10.3],[5.15,9.2],[5.2,9.5],[5.25,10.8],[5.3,11],[5.35,9.8],[5.4,9],[5.45,10.1],[5.5,10.6],[5.55,9.4],[5.6,11.5],[5.65,10.4],[5.7,9.8],[5.75,11.1],[5.8,10.8],[5.85,9.6],[5.9,9.2],[5.95,10.5],[6,11.2],[6.05,9.7],[6.1,10],[6.15,11.4],[6.2,9.1],[6.25,10.2],[6.3,11.6],[6.35,9.5],[6.4,10.4],[6.45,11.9],[6.5,9.6],[6.55,10.7],[6.6,11.8],[6.65,9.3],[6.7,10.2],[6.75,11],[6.8,9.3],[6.85,10.4],[6.9,11],[6.95,9.8],[7,10.5],[7.05,5.3],[7.1,9.8],[7.15,10.9],[7.2,11.3],[7.25,9.5],[7.3,10.2],[7.35,11.1],[7.4,9.2],[7.45,10.4],[7.5,10.8],[7.55,9.6],[7.6,11.4],[7.65,10.1],[7.7,9.9],[7.75,10.7],[7.8,10.6],[7.85,9.3],[7.9,9.4],[7.95,10.6],[8,11],[8.05,9.7],[8.1,10.2],[8.15,11.1],[8.2,10.8],[8.25,9.5],[8.3,9.5],[8.35,10.7],[8.4,10.9],[8.45,9.6],[8.5,9.8],[8.55,10.9],[8.6,7.7],[8.65,9.9],[8.7,10.4],[8.75,10.1],[8.8,11.2],[8.85,9.4],[8.9,10],[8.95,11.4],[9,9.3],[9.05,10.2],[9.1,10.8],[9.15,9.5],[9.2,9.6],[9.25,10.5],[9.3,10.2],[9.35,9.4],[9.4,8.8],[9.45,10.1],[9.5,10.5],[9.55,9.7],[9.6,9.9],[9.65,10.4],[9.7,10.6],[9.75,9.8],[9.8,9.5],[9.85,10.2],[9.9,10.3],[9.95,9.6],[10,10.9],[10.05,10.1],[10.1,9.8],[10.15,10.5],[10.2,10.6],[10.25,9.9],[10.3,10.1],[10.35,10.7],[10.4,10.8],[10.45,9.8],[10.5,9.9],[10.55,10.4],[10.6,10.5],[10.66,8.2],[10.76,13.6],[10.83,6.7],[10.95,7.7],[11,10.3],[11.07,9.5],[11.14,6.2],[11.19,5.2],[11.25,10],[11.31,8.7],[11.38,7.2],[11.48,10.2],[11.55,5.7],[11.62,9.5],[11.72,6.5],[11.79,5.2],[11.86,8.7],[11.96,7.2],[12.05,4.5],[12.15,3.8],[12.25,3.6],[12.34,3.3],[12.44,3],[12.54,2.8],[12.63,3.3],[12.68,14.8],[12.73,8.7],[12.78,11.7],[12.82,8.2],[12.87,7.2],[12.92,6.5],[12.99,9.2],[13.07,3.3],[13.16,3],[13.26,3.3],[13.35,3],[13.45,2.8],[13.55,8.7],[13.6,10.2],[13.64,11.9],[13.69,10.9],[13.74,9.9],[13.79,14.6],[13.84,11.5],[13.88,3.3],[13.98,3.6],[14.08,3.3],[14.17,3.6],[14.27,3.8],[14.36,4],[14.46,3.6],[14.56,4],[14.65,4.2],[14.75,4],[14.85,4.7],[14.94,6.5],[15.04,6.2]];
const oil6 = [[10.95,0.4],[11.05,0.7],[11.15,0.5],[11.25,0.9],[11.35,0.6],[11.43,4.1],[11.5,0.8],[11.6,1.1],[11.7,0.7],[11.8,1],[11.9,1.2],[12,0.9],[12.1,1.3],[12.2,1],[12.3,1.2],[12.4,1.4],[12.5,1.1],[12.6,1.3],[12.7,1],[12.8,1.4],[12.9,1.2],[13,1.5],[13.1,1.3],[13.2,1.6],[13.3,1.4],[13.4,1.7],[13.5,1.5],[13.6,1.8],[13.7,1.6],[13.8,1.9],[13.9,1.7],[14,2],[14.1,1.8],[14.2,2.1],[14.3,1.9],[14.4,2.2],[14.5,2],[14.6,2.3],[14.7,2.1],[14.8,2.4],[14.9,2.2],[15,2.5],[15.05,2]];
const gas6 = [[10.95,350],[11.05,500],[11.15,300],[11.25,600],[11.35,450],[11.45,700],[11.55,380],[11.65,550],[11.75,650],[11.85,420],[11.95,580],[12.05,700],[12.15,480],[12.25,620],[12.35,750],[12.45,550],[12.55,680],[12.65,800],[12.75,600],[12.85,720],[12.95,1000],[13.05,650],[13.15,780],[12.85,12000],[12.9,12500],[12.95,12300],[13,12800],[13.05,13000],[13.1,12600],[13.15,12200],[13.2,12700],[13.25,12400],[13.3,12000],[13.35,11800],[13.4,12100],[13.45,9400],[13.5,9100],[13.55,9700],[13.6,10100],[13.65,9900],[13.7,9600],[13.75,9800],[13.8,9500],[13.85,10000],[14.05,11600],[14.1,12000],[14.15,12600],[14.2,11300],[14.25,12200],[14.3,13300],[14.35,12500],[14.4,11000],[14.45,12800],[14.5,11800],[14.55,12300],[14.6,10800],[14.65,12600],[14.7,11400],[14.75,12100],[14.8,13000],[14.85,11700],[14.9,12400],[14.95,11200],[15,12000],[15.05,11000],[15.1,10700]];

const bhpAll = [bhp1, bhp2, bhp3, bhp4, bhp5, bhp6];
const waterAll = [water1, water2, water3, water4, water5, water6];
const oilAll = [oil1, oil2, oil3, oil4, oil5, oil6];
const gasAll = [gas1, gas2, gas3, gas4, gas5, gas6];

// ---- layout (pixels) ----
const frames = [
  { l: 25, t: 4, r: 252, b: 175, g: 284, legX: 15, piX: 38, piY: 45, capX: 140, capY: 235 },
  { l: 380, t: 3, r: 608, b: 175, g: 638, legX: 10, piX: 390, piY: 55, capX: 508, capY: 245 },
  { l: 22, t: 261, r: 248, b: 432, g: 276, legX: 21, piX: 27, piY: 268, capX: 157, capY: 493 },
  { l: 380, t: 261, r: 608, b: 433, g: 638, legX: 13, piX: 388, piY: 305, capX: 508, capY: 494 },
  { l: 23, t: 518, r: 247, b: 688, g: 276, legX: 10, piX: 32, piY: 557, capX: 157, capY: 746 },
  { l: 380, t: 517, r: 602, b: 686, g: 630, legX: 8, piX: 387, piY: 552, capX: 508, capY: 746 }
];

const colors = { bhp: '#000000', water: '#0000ff', oil: '#0b9a0b', gas: '#ff0000', pi: '#8d6fd1' };
const serif = '"Liberation Serif", "Times New Roman", serif';
const svg = d3.select('#fig');

function fixAxis (sel, stroke, fill) {
  sel.attr('font-family', serif).attr('font-size', 6.5);
  sel.select('.domain').attr('stroke', stroke);
  sel.selectAll('.tick line').attr('stroke', stroke);
  sel.selectAll('.tick text').attr('fill', fill);
}

function drawPanel (i) {
  const f = frames[i];
  const g = svg.append('g').attr('class', 'panel');

  const x = d3.scaleLinear().domain([0, timeMax[i]]).range([f.l, f.r]);
  const yP = d3.scaleLinear().domain([0, pressMax[i]]).range([f.b, f.t]);
  const yR = d3.scaleLinear().domain([0, rateMax[i]]).range([f.b, f.t]);
  const yG = d3.scaleLinear().domain([0, gasMax[i]]).range([f.b, f.t]);

  // axes
  const ax = g.append('g').attr('transform', `translate(0,${f.b})`)
    .call(d3.axisBottom(x).tickValues(d3.range(0, timeMax[i] + 0.001, timeStep[i]))
      .tickSizeInner(3).tickSizeOuter(0).tickPadding(3).tickFormat(d3.format('d')));
  fixAxis(ax, '#333', '#333');

  const al = g.append('g').attr('transform', `translate(${f.l},0)`)
    .call(d3.axisLeft(yP).tickValues(d3.range(0, pressMax[i] + 0.001, pressStep[i]))
      .tickSizeInner(3).tickSizeOuter(0).tickPadding(4).tickFormat(d3.format('d')));
  fixAxis(al, '#8a8a8a', '#444');
  al.selectAll('.tick line').attr('x1', 2);

  const ar = g.append('g').attr('transform', `translate(${f.r},0)`)
    .call(d3.axisRight(yR).tickValues(d3.range(0, rateMax[i] + 0.001, 10))
      .tickSizeInner(3).tickSizeOuter(0).tickPadding(2).tickFormat(d3.format('d')));
  fixAxis(ar, '#222', '#444');
  ar.selectAll('.tick line').attr('x1', -2);

  const ag = g.append('g').attr('transform', `translate(${f.g},0)`)
    .call(d3.axisRight(yG).tickValues(d3.range(0, gasMax[i] + 0.001, gasStep[i]))
      .tickSizeInner(3).tickSizeOuter(0).tickPadding(2).tickFormat(d3.format('d')));
  fixAxis(ag, '#ff8080', '#ff3030');
  ag.selectAll('.tick line').attr('x1', -3);

  // axis titles
  g.append('text').attr('x', (f.l + f.r) / 2).attr('y', f.b + 25)
    .attr('text-anchor', 'middle').attr('font-weight', 'bold').attr('font-size', 8.5)
    .attr('fill', '#222').text('Flowback time, day');
  g.append('text').attr('transform', `translate(${Math.max(f.l - 16, 9)},${(f.t + f.b) / 2}) rotate(-90)`)
    .attr('text-anchor', 'middle').attr('font-weight', 'bold').attr('font-size', 8)
    .attr('fill', '#222').text('Pressure, MPa');
  g.append('text').attr('transform', `translate(${f.r + 19},${(f.t + f.b) / 2}) rotate(-90)`)
    .attr('text-anchor', 'middle').attr('font-weight', 'bold').attr('font-size', 8)
    .attr('fill', '#222').text('Water/Oil Rate, m³/d');
  g.append('text').attr('transform', `translate(${f.g + 25},${(f.t + f.b) / 2}) rotate(-90)`)
    .attr('text-anchor', 'middle').attr('font-weight', 'bold').attr('font-size', 9.5)
    .attr('fill', '#ff2020').text('Gas Rate, m³/d');

  // gas = 0 before breakthrough
  g.append('line')
    .attr('x1', x(0)).attr('x2', x(gasZeroUntil[i]))
    .attr('y1', yG(0)).attr('y2', yG(0))
    .attr('stroke', colors.gas).attr('stroke-width', 2.6);

  const series = [
    { data: bhpAll[i], y: yP, color: colors.bhp },
    { data: waterAll[i], y: yR, color: colors.water },
    { data: oilAll[i], y: yR, color: colors.oil },
    { data: gasAll[i], y: yG, color: colors.gas }
  ];
  series.forEach(s => {
    g.append('g').selectAll('circle').data(s.data).join('circle')
      .attr('cx', d => x(d[0])).attr('cy', d => s.y(d[1]))
      .attr('r', 1.75).attr('fill', s.color);
  });

  // initial reservoir pressure
  g.append('line')
    .attr('x1', f.l).attr('x2', f.r)
    .attr('y1', yP(piValue[i])).attr('y2', yP(piValue[i]))
    .attr('stroke', colors.pi).attr('stroke-width', 1.3).attr('stroke-dasharray', '5,3');
  const pl = g.append('text').attr('x', f.piX).attr('y', f.piY)
    .attr('font-size', 9).attr('fill', colors.pi).attr('font-style', 'italic');
  pl.append('tspan').text('p');
  pl.append('tspan').attr('font-size', 6).attr('dy', 2).text('i');

  // legend
  const legend = [['BHP', colors.bhp, 0], ['Water', colors.water, 38], ['Oil', colors.oil, 81], ['Gas', colors.gas, 111]];
  const lg = g.append('g').attr('transform', `translate(${f.l + f.legX},${f.t + 7})`);
  legend.forEach(([name, c, dx]) => {
    lg.append('circle').attr('cx', dx).attr('cy', 0).attr('r', 1.8).attr('fill', c);
    lg.append('text').attr('x', dx + 11).attr('y', 3).attr('font-size', 8.5)
      .attr('font-weight', 'bold').attr('fill', '#222').text(name);
  });

  // caption
  svg.append('text').attr('x', f.capX).attr('y', f.capY).attr('text-anchor', 'middle')
    .attr('font-size', 14).attr('fill', '#111').text(`(${letters[i]})${wellNames[i]}`);
}

d3.range(6).forEach(drawPanel);
</script>
</body>
</html>
